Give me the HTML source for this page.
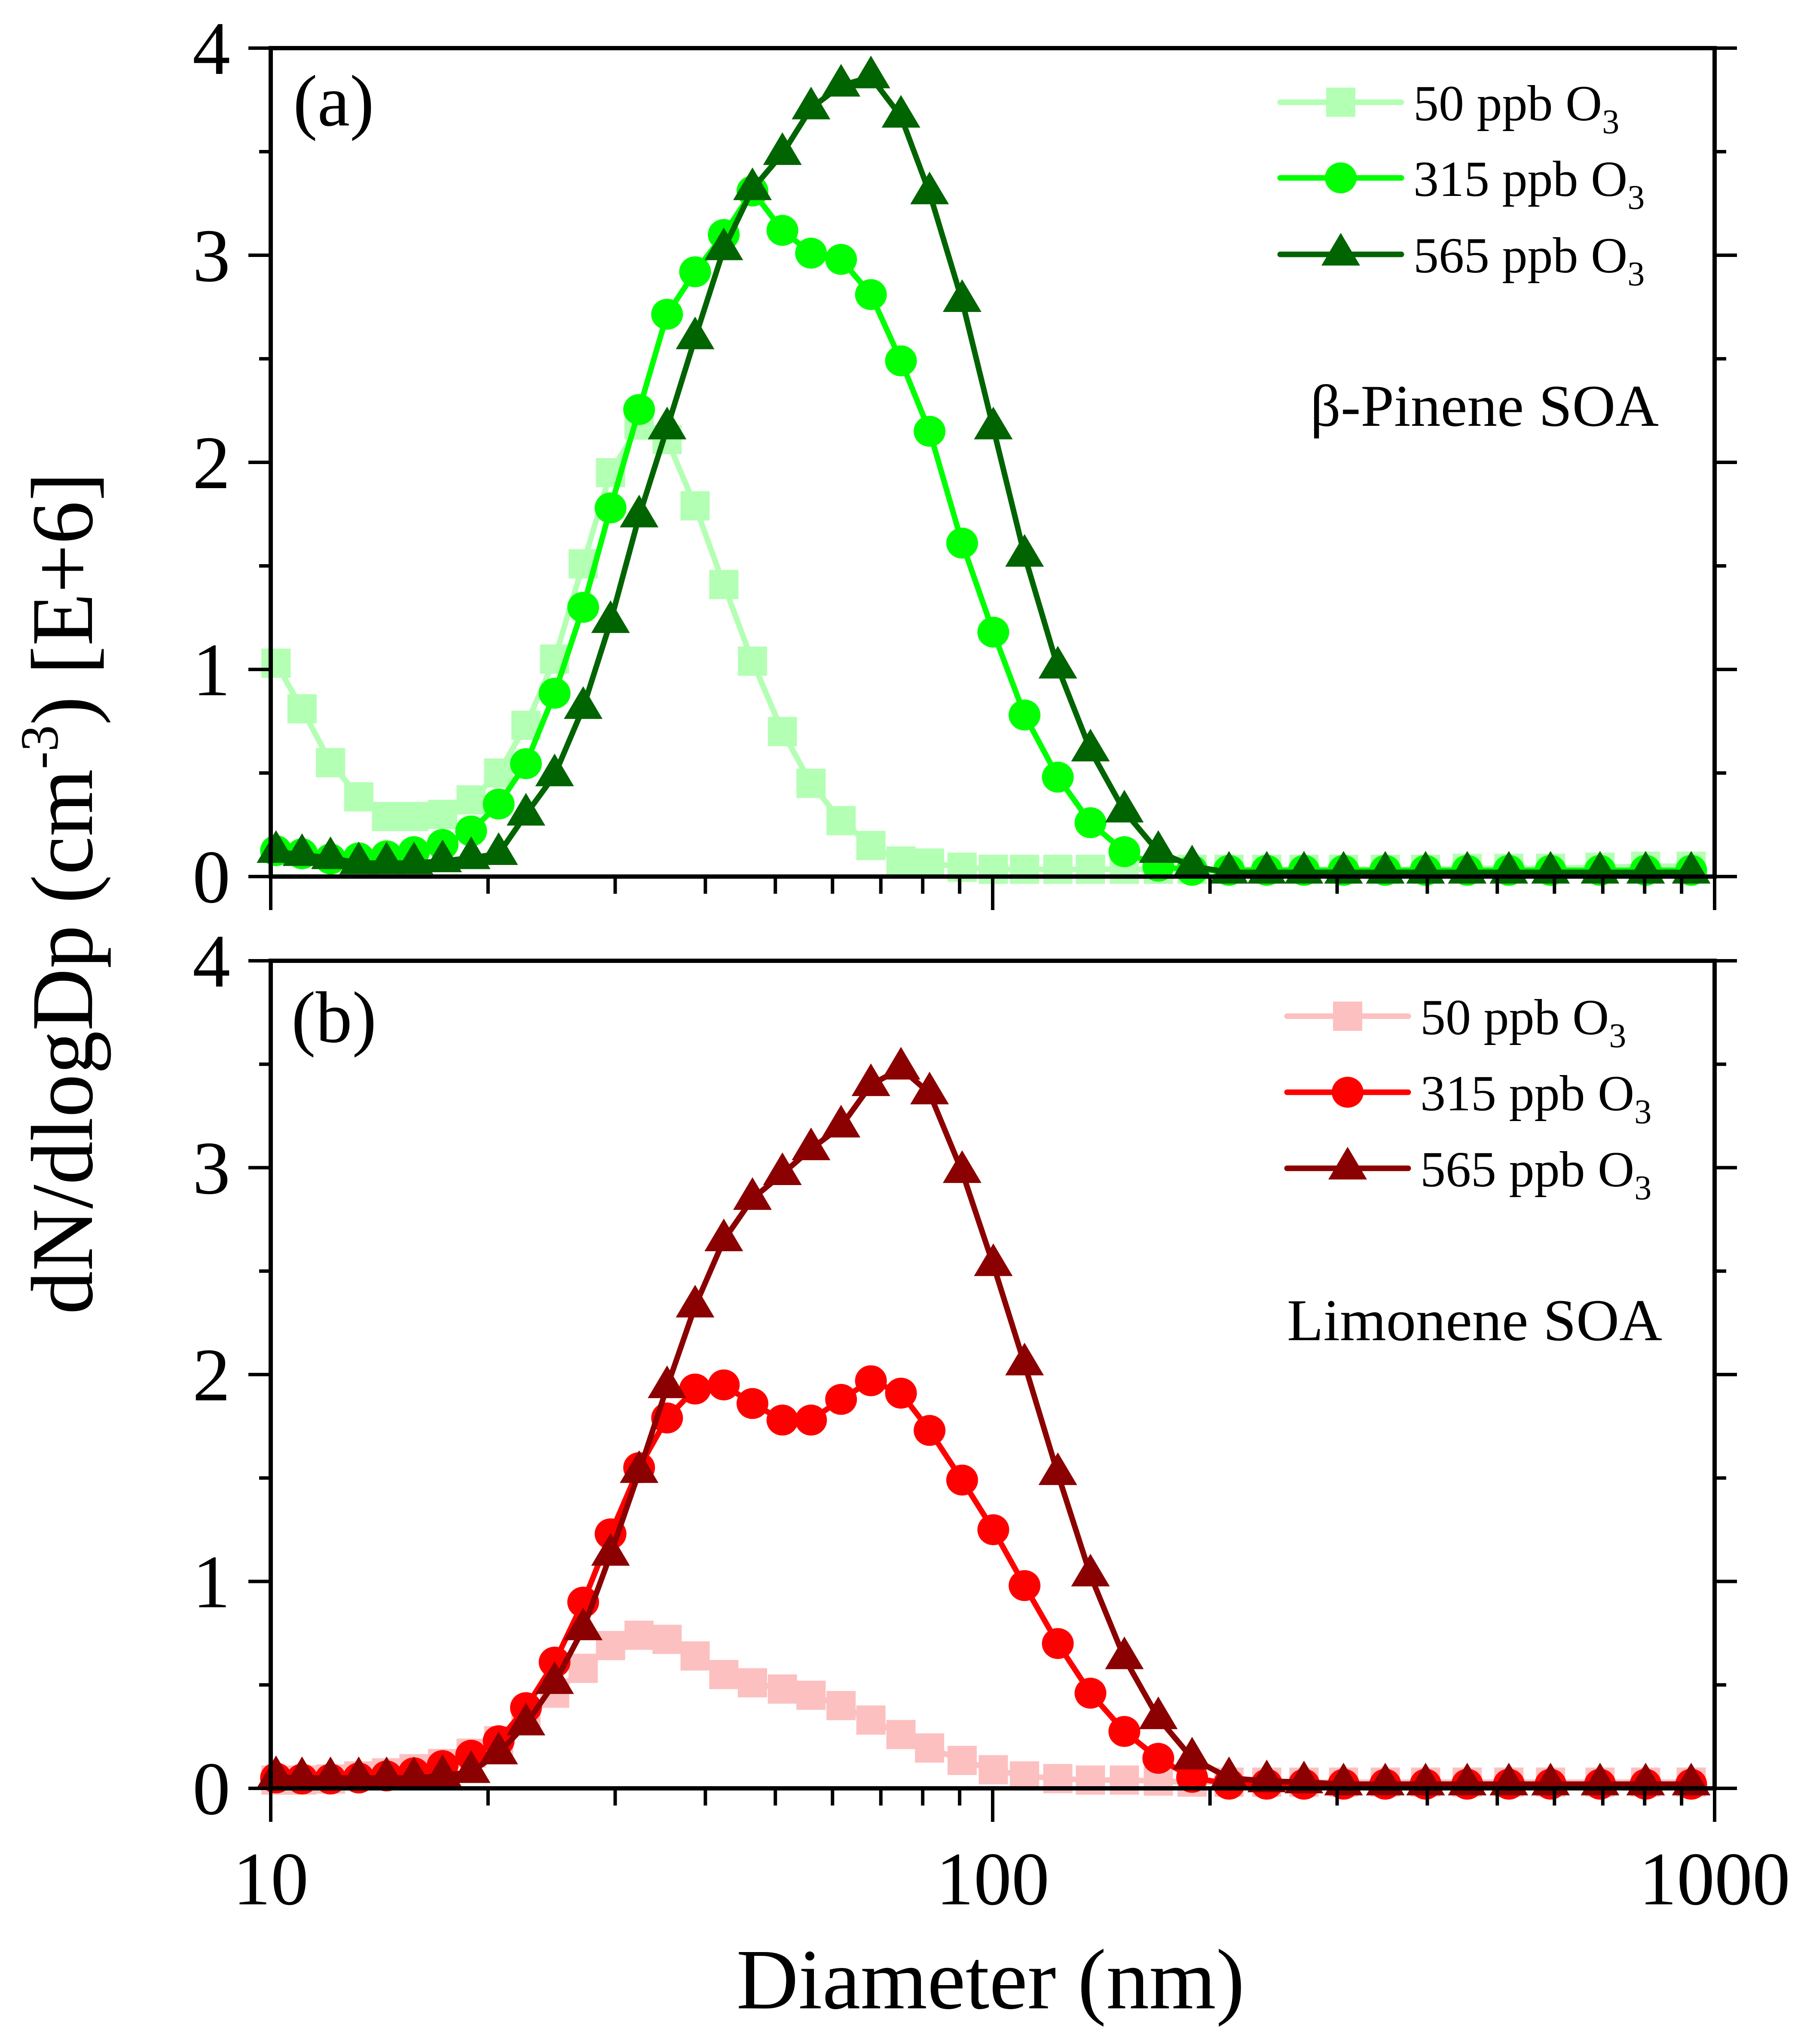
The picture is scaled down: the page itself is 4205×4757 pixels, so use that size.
<!DOCTYPE html>
<html><head><meta charset="utf-8">
<style>
html,body{margin:0;padding:0;background:#fff;}
svg{display:block;font-family:"Liberation Serif",serif;}
</style></head>
<body>
<svg id="chart" width="4205" height="4757" viewBox="0 0 4205 4757" xmlns="http://www.w3.org/2000/svg">
<rect x="0" y="0" width="4205" height="4757" fill="#fff"/>
<g id="marks"></g>
<g id="axes"></g>
<text x="2305" y="4674" font-size="200" text-anchor="middle">Diameter (nm)</text>
<text transform="translate(214,2079) rotate(-90)" font-size="205" text-anchor="middle" textLength="1960" lengthAdjust="spacingAndGlyphs">dN/dlogDp (cm<tspan font-size="125" dy="-80">-3</tspan><tspan dy="80">) [E+6]</tspan></text>
<text x="682" y="292" font-size="170">(a)</text>
<text x="678" y="2425" font-size="170">(b)</text>
<text x="3049" y="991" font-size="138" textLength="811" lengthAdjust="spacingAndGlyphs">β-Pinene SOA</text>
<text x="2995" y="3119" font-size="138" textLength="873" lengthAdjust="spacingAndGlyphs">Limonene SOA</text>
<g id="legends"></g>
</svg>
<script>
// Diameters (nm), shared by all series
const diameters = [10.17,11.05,12.1,13.24,14.47,15.79,17.3,18.95,20.69,22.57,24.73,27.09,29.56,32.38,35.4,38.71,42.42,46.48,51.14,56.03,61.66,67.82,74.64,81.77,90.72,100.2,110.7,123.1,136.6,152.2,169.6,188.9,212.5,239.7,269.9,306.2,349.8,397.8,454.3,518.8,592.6,693.9,802.5,928.0];
// Panel (a) beta-pinene, dN/dlogDp [E+6]
const pinene50 = [1.03,0.81,0.55,0.385,0.29,0.29,0.30,0.37,0.50,0.73,1.05,1.51,1.95,2.18,2.11,1.79,1.41,1.04,0.70,0.45,0.27,0.15,0.075,0.065,0.045,0.035,0.035,0.035,0.035,0.035,0.035,0.035,0.035,0.035,0.035,0.035,0.035,0.035,0.04,0.04,0.04,0.045,0.05,0.05];
const pinene315 = [0.125,0.11,0.085,0.09,0.10,0.12,0.155,0.22,0.35,0.545,0.885,1.30,1.78,2.255,2.715,2.92,3.10,3.31,3.12,3.01,2.98,2.81,2.49,2.15,1.61,1.18,0.78,0.48,0.26,0.12,0.05,0.03,0.03,0.03,0.03,0.03,0.03,0.03,0.03,0.03,0.03,0.03,0.03,0.03];
const pinene565 = [0.12,0.105,0.09,0.065,0.065,0.065,0.075,0.09,0.11,0.30,0.49,0.815,1.23,1.74,2.165,2.6,3.03,3.32,3.49,3.71,3.82,3.86,3.67,3.30,2.78,2.165,1.55,1.01,0.61,0.315,0.12,0.05,0.02,0.02,0.02,0.02,0.02,0.02,0.02,0.02,0.02,0.02,0.02,0.02];
// Panel (b) limonene
const limonene50 = [0.04,0.04,0.045,0.06,0.075,0.095,0.12,0.17,0.23,0.33,0.46,0.58,0.69,0.74,0.72,0.64,0.55,0.51,0.48,0.45,0.40,0.33,0.26,0.195,0.135,0.09,0.06,0.047,0.04,0.04,0.035,0.03,0.03,0.03,0.03,0.03,0.03,0.03,0.03,0.03,0.03,0.03,0.03,0.03];
const limonene315 = [0.05,0.045,0.045,0.05,0.06,0.075,0.11,0.16,0.23,0.39,0.61,0.90,1.23,1.55,1.79,1.93,1.95,1.86,1.78,1.78,1.88,1.97,1.91,1.73,1.49,1.25,0.98,0.70,0.46,0.275,0.145,0.053,0.02,0.02,0.02,0.02,0.02,0.02,0.02,0.02,0.02,0.02,0.02,0.02];
const limonene565 = [0.055,0.05,0.05,0.05,0.05,0.05,0.06,0.08,0.17,0.31,0.51,0.77,1.13,1.53,1.94,2.33,2.65,2.85,2.97,3.09,3.20,3.40,3.48,3.36,2.98,2.53,2.05,1.52,1.03,0.63,0.34,0.145,0.05,0.035,0.03,0.02,0.02,0.02,0.02,0.02,0.02,0.02,0.02,0.02];
const yTickLabels = ["0","1","2","3","4"];
const xTickLabels = ["10","100","1000"];
const legendLabels = ["50 ppb O","315 ppb O","565 ppb O"];

const NS = "http://www.w3.org/2000/svg";
const X0 = 630, X1 = 3990;
function xs(d){ return X0 + (X1 - X0) * (Math.log10(d) - 1) / 2; }
const panels = [
  {key:"a", top:112, bottom:2040, series:[pinene50,pinene315,pinene565], colors:["#b3ffb3","#00ff00","#006400"], legendY:[238,414,592], legendX:2979, xlabels:false},
  {key:"b", top:2236, bottom:4162, series:[limonene50,limonene315,limonene565], colors:["#fcc0c0","#ff0000","#8b0000"], legendY:[2365,2542,2719], legendX:2995, xlabels:true}
];
const shapes = ["square","circle","triangle"];
const seriesNames = ["50-ppb","315-ppb","565-ppb"];
function mk(tag, attrs, parent){ const e = document.createElementNS(NS, tag); for (const k in attrs) e.setAttribute(k, attrs[k]); parent.appendChild(e); return e; }
function marker(shape, cx, cy, color, parent){
  let e;
  if (shape === "square") e = mk("rect", {x:cx-34, y:cy-34, width:68, height:68, fill:color}, parent);
  else if (shape === "circle") e = mk("ellipse", {cx:cx, cy:cy, rx:37, ry:36, fill:color}, parent);
  else e = mk("polygon", {points:(cx)+","+(cy-50)+" "+(cx-45)+","+(cy+26)+" "+(cx+45)+","+(cy+26), fill:color}, parent);
  return e;
}
const marks = document.getElementById("marks");
const axes = document.getElementById("axes");
const legends = document.getElementById("legends");
panels.forEach(p => {
  const ys = v => p.bottom - v * (p.bottom - p.top) / 4;
  p.series.forEach((vals, si) => {
    const g = mk("g", {}, marks);
    
    
    const pts = vals.map((v, i) => xs(diameters[i]).toFixed(1) + "," + ys(v).toFixed(1)).join(" ");
    const line = mk("polyline", {points:pts, fill:"none", stroke:p.colors[si], "stroke-width":13, "stroke-linejoin":"round"}, g);
    
    
    vals.forEach((v, i) => {
      const m = marker(shapes[si], xs(diameters[i]), ys(v), p.colors[si], g);
      
      
    });
  });
  // frame
  const fr = mk("rect", {x:X0, y:p.top, width:X1-X0, height:p.bottom-p.top, fill:"none", stroke:"#000", "stroke-width":10}, axes);
  
  
  // y ticks left and right
  for (let k = 0; k <= 8; k++) {
    const v = k / 2, y = ys(v), major = k % 2 === 0, len = major ? 52 : 27;
    const tl = mk("line", {x1:X0-len, y1:y, x2:X0, y2:y, stroke:"#000", "stroke-width":8}, axes);
    
    
    const tr = mk("line", {x1:X1, y1:y, x2:X1+len, y2:y, stroke:"#000", "stroke-width":8}, axes);
    
    
    if (major) {
      const t = mk("text", {x:536, y:y+60, "font-size":176, "text-anchor":"end"}, axes);
      t.textContent = yTickLabels[k/2];
      
      
    }
  }
  // x ticks
  for (let dec = 1; dec <= 3; dec++) {
    for (let m = 1; m <= 9; m++) {
      if (dec === 3 && m > 1) break;
      const d = m * Math.pow(10, dec), x = xs(d), major = m === 1, len = major ? 78 : 40;
      const tk = mk("line", {x1:x, y1:p.bottom, x2:x, y2:p.bottom+len, stroke:"#000", "stroke-width":8}, axes);
      
      
      if (major && p.xlabels) {
        const t = mk("text", {x:x, y:4432, "font-size":176, "text-anchor":"middle"}, axes);
        t.textContent = xTickLabels[dec-1];
        
        
      }
    }
  }
  // legend
  legendLabels.forEach((lab, i) => {
    const g = mk("g", {}, legends);
    
    
    const y = p.legendY[i];
    mk("line", {x1:p.legendX, y1:y, x2:p.legendX+282, y2:y, stroke:p.colors[i], "stroke-width":13, "stroke-linecap":"round"}, g);
    marker(shapes[i], p.legendX+141, y, p.colors[i], g);
    const t = mk("text", {x:p.legendX+310, y:y+42, "font-size":118}, g);
    t.textContent = lab;
    const sub = document.createElementNS(NS, "tspan");
    sub.setAttribute("font-size", "80");
    sub.setAttribute("dy", "30");
    sub.textContent = "3";
    t.appendChild(sub);
  });
});
</script>
</body></html>
